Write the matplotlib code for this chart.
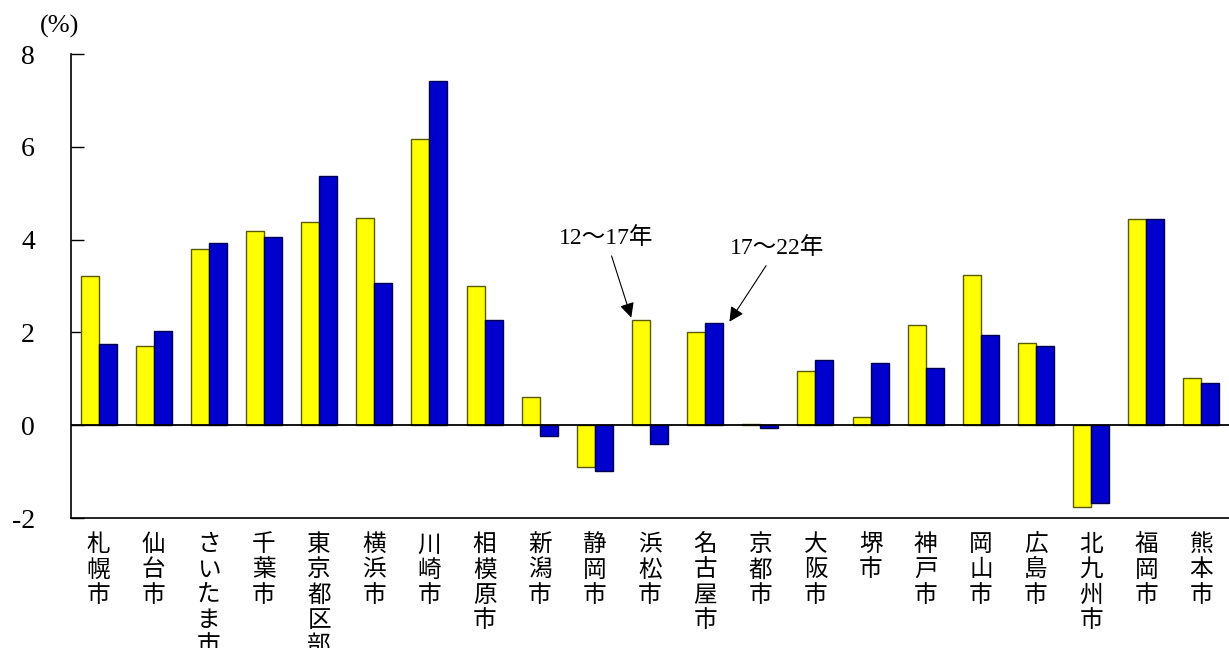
import matplotlib
matplotlib.use("Agg")
import matplotlib.pyplot as plt
import numpy as np

# City names and population growth rates (%) for two five-year periods
cities = ["札幌市", "仙台市", "さいたま市", "千葉市", "東京都区部", "横浜市", "川崎市",
          "相模原市", "新潟市", "静岡市", "浜松市", "名古屋市", "京都市", "大阪市",
          "堺市", "神戸市", "岡山市", "広島市", "北九州市", "福岡市", "熊本市"]
rate_12_17 = [3.21, 1.70, 3.80, 4.19, 4.37, 4.47, 6.17, 3.01, 0.60, -0.90, 2.26,
              2.01, 0.03, 1.16, 0.17, 2.15, 3.23, 1.78, -1.76, 4.45, 1.01]
rate_17_22 = [1.74, 2.04, 3.92, 4.05, 5.38, 3.06, 7.42, 2.27, -0.24, -0.98, -0.40,
              2.21, -0.05, 1.40, 1.33, 1.23, 1.94, 1.71, -1.67, 4.45, 0.91]
yticks = [-2, 0, 2, 4, 6, 8]

serif = ["Liberation Serif", "Noto Sans CJK JP"]
cjk = ["Noto Sans CJK JP", "DejaVu Sans"]

fig = plt.figure(figsize=(12.29, 6.48), dpi=100)
ax = fig.add_axes([71 / 1229, 1 - 518 / 648, 1 - 71 / 1229, (518 - 54) / 648])

x = np.arange(len(cities))
w = 0.326
ax.bar(x - w / 2, rate_12_17, width=w, color="#FFFF00", edgecolor="#5a5a00",
       linewidth=1.0, zorder=3)
ax.bar(x + w / 2, rate_17_22, width=w, color="#0000CC", edgecolor="#000050",
       linewidth=1.0, zorder=3)

ax.axhline(0, color="black", lw=1.3, zorder=4)

ax.set_xlim(-0.5, len(cities) - 0.5)
ax.set_ylim(-2, 8)
ax.set_yticks(yticks)
ax.set_yticklabels([str(v) for v in yticks], family=serif, fontsize=20)
ax.tick_params(axis="y", direction="in", length=9, width=1, pad=26)
ax.set_xticks([])

for s in ("top", "right"):
    ax.spines[s].set_visible(False)
for s in ("left", "bottom"):
    ax.spines[s].set_linewidth(1.2)

# vertical city labels under each group
for xi, name in zip(x, cities):
    ax.text(xi, -2.33, "\n".join(name), ha="center", va="top", fontsize=17,
            family=cjk, linespacing=1.12, transform=ax.transData, clip_on=False)

fig.text(60 / 1229, 1 - 26 / 648, "(%)", ha="center", va="center",
         fontsize=19, family=serif)

# period annotations
ax.annotate("12～17年", xy=(9.66, 2.32), xytext=(9.20, 4.03),
            ha="center", va="center", fontsize=17, family=serif,
            arrowprops=dict(arrowstyle="-|>", color="black", lw=0.8,
                            mutation_scale=22, shrinkA=3, shrinkB=0))
ax.annotate("17～22年", xy=(11.44, 2.23), xytext=(12.31, 3.81),
            ha="center", va="center", fontsize=17, family=serif,
            arrowprops=dict(arrowstyle="-|>", color="black", lw=0.8,
                            mutation_scale=22, shrinkA=3, shrinkB=0))

fig.savefig("out.png", dpi=100)
